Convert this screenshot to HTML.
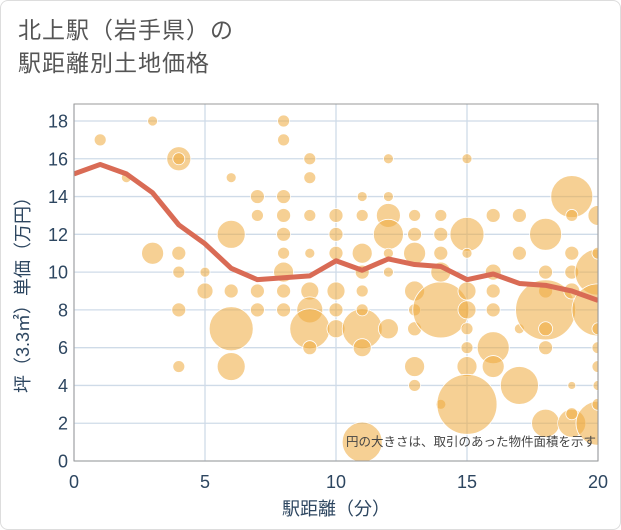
<!DOCTYPE html>
<html><head><meta charset="utf-8"><style>
body{margin:0;background:#fff;}
#wrap{position:relative;width:619px;height:528px;border:1px solid #ddd;border-radius:8px;background:#fff;font-family:"Liberation Sans","Noto Sans CJK JP",sans-serif;overflow:hidden}
#title{position:absolute;left:17px;top:13px;font-size:23px;line-height:33px;color:#555;letter-spacing:1px}
svg{position:absolute;left:0;top:0}
</style></head><body>
<div id="wrap">
<div id="title">北上駅（岩手県）の<br>駅距離別土地価格</div>
<svg id="chart" width="621" height="530" font-family="'Liberation Sans','Noto Sans CJK JP',sans-serif"></svg>
</div>
<script>
const xTicks=[0,5,10,15,20];
const yTicks=[0,2,4,6,8,10,12,14,16,18];
const lineX=[0,1,2,3,4,5,6,7,8,9,10,11,12,13,14,15,16,17,18,19,20];
const lineY=[15.2,15.7,15.2,14.2,12.5,11.5,10.2,9.6,9.7,9.8,10.6,10.1,10.7,10.4,10.3,9.6,9.9,9.4,9.3,9.0,8.5];
const bubX=[1,3,2,3,4,4,4,4,4,4,5,5,6,6,6,6,6,7,7,7,7,8,8,8,8,8,8,8,8,8,9,9,9,9,9,9,9,9,10,10,10,10,10,10,11,11,11,11,11,11,11,11,11,12,12,12,12,12,12,12,13,13,13,13,13,13,13,13,14,14,15,15,15,15,15,15,15,15,15,16,16,16,16,16,16,17,17,17,17,18,18,18,18,18,18,18,19,19,19,19,19,19,19,19,20,20,20,20,20,20,20,20,20,20,14,14,14,14];
const bubY=[17,18,15,11,16,16,11,10,8,5,10,9,15,12,9,7,5,14,13,9,8,18,17,14,13,12,11,10,9,8,16,15,13,11,9,8,7,6,13,12,11,9,8,7,14,13,11,10,9,7,6,8,1,16,14,13,12,10,7,11,13,12,11,9,8,7,5,4,8,3,16,12,11,9,8,7,6,5,3,13,10,9,8,6,5,13,11,4,7,12,10,9,8,7,6,2,14,13,11,10,9,4,2,2.5,13,10,8,11,7,6,5,4,2,3,12,13,11,10];
const bubR=[6,5,5,11,12,6,7,6,7,6,5,8,5,14,7,22,14,7,6,7,7,6,6,7,7,7,6,10,7,7,6,6,6,5,9,13,20,7,7,7,7,9,7,9,5,6,10,7,6,20,9,6,20,5,5,12,15,5,10,5,6,7,11,10,6,7,10,6,28,5,5,17,5,9,9,6,6,10,30,7,8,7,7,16,11,7,7,19,5,16,7,7,30,7,7,14,21,6,7,7,8,4,14,6,10,23,26,6,6,6,6,5,22,6,7,6,7,10];
const NS="http://www.w3.org/2000/svg";
const svg=document.getElementById('chart');
const L=73,R=597,T=103,B=460;
const sx=v=>L+(R-L)*v/20;
const sy=v=>B-(B-120)*v/18;
function mk(t,a){const e=document.createElementNS(NS,t);for(const k in a)e.setAttribute(k,a[k]);svg.appendChild(e);return e;}
const defs=mk('defs',{});
const cp=document.createElementNS(NS,'clipPath');cp.setAttribute('id','clip');
const cr=document.createElementNS(NS,'rect');cr.setAttribute('x',L);cr.setAttribute('y',T);cr.setAttribute('width',R-L);cr.setAttribute('height',B-T);cp.appendChild(cr);defs.appendChild(cp);
yTicks.forEach(v=>{
 const g=mk('line',{x1:L,x2:R,y1:sy(v),y2:sy(v),stroke:'#cfdbe8','stroke-width':1.3});
 
 
 const t=mk('text',{x:L-6,y:sy(v)+6.5,'text-anchor':'end','font-size':18,fill:'#2d4660'});t.textContent=v;
 
 
});
xTicks.forEach(v=>{
 const g=mk('line',{x1:sx(v),x2:sx(v),y1:T,y2:B,stroke:'#cfdbe8','stroke-width':1.3});
 
 
 const t=mk('text',{x:sx(v),y:B+27,'text-anchor':'middle','font-size':18,fill:'#2d4660'});t.textContent=v;
 
 
});
const bg=mk('g',{'clip-path':'url(#clip)'});
bubX.forEach((x,i)=>{
 const c=document.createElementNS(NS,'circle');
 c.setAttribute('cx',sx(x));c.setAttribute('cy',sy(bubY[i]));c.setAttribute('r',bubR[i]);
 c.setAttribute('fill','rgba(238,170,60,0.55)');c.setAttribute('stroke','#fff');c.setAttribute('stroke-width','0.8');
 
 
 bg.appendChild(c);
});
const pts=lineX.map((x,i)=>sx(x)+','+sy(lineY[i])).join(' ');
const pl=mk('polyline',{points:pts,fill:'none',stroke:'#d96b55','stroke-width':5,'stroke-linejoin':'round','clip-path':'url(#clip)'});


const fr=mk('rect',{x:L,y:T,width:R-L,height:B-T,fill:'none',stroke:'#999','stroke-width':1});


const note=mk('text',{x:595,y:445,'text-anchor':'end','font-size':12.5,fill:'#444'});note.textContent='円の大きさは、取引のあった物件面積を示す';


const xt=mk('text',{x:(L+R)/2,y:514,'text-anchor':'middle','font-size':18,fill:'#2d4660'});xt.textContent='駅距離（分）';


const yt=mk('text',{x:0,y:0,'text-anchor':'middle','font-size':18,fill:'#2d4660',transform:'translate(28,'+((T+B)/2+8)+') rotate(-90)'});yt.textContent='坪（3.3㎡）単価（万円）';


</script>
</body></html>
